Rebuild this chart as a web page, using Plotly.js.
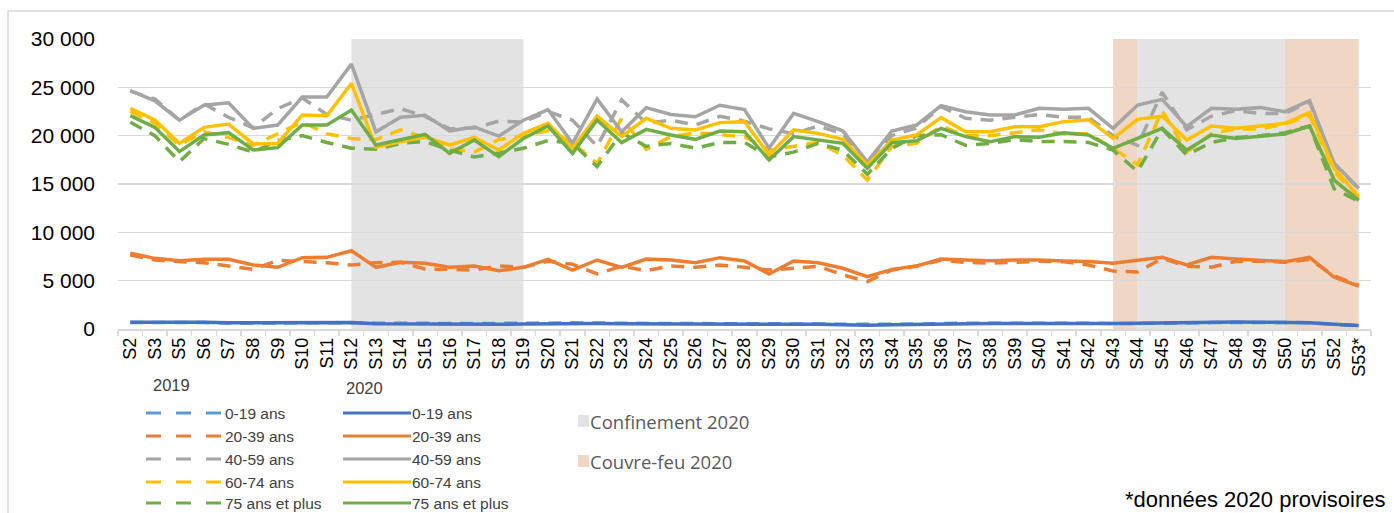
<!DOCTYPE html>
<html>
<head>
<meta charset="utf-8">
<script src="https://cdn.plot.ly/plotly-3.0.1.min.js"></script>
<style>
html,body{margin:0;padding:0;background:#fff;}
#chart{width:1394px;height:513px;}
</style>
</head>
<body>
<div id="chart"></div>
<script>
// ---- categories ----
const weeks = ['S2','S3','S5','S6','S7','S8','S9','S10','S11','S12','S13','S14','S15','S16','S17','S18','S19','S20','S21','S22','S23','S24','S25','S26','S27','S28','S29','S30','S31','S32','S33','S34','S35','S36','S37','S38','S39','S40','S41','S42','S43','S44','S45','S46','S47','S48','S49','S50','S51','S52','S53*'];

// ---- series names ----
const ageGroups = ['0-19 ans','20-39 ans','40-59 ans','60-74 ans','75 ans et plus'];

// ---- 2019 (dashed) ----
const a0_19_2019 = [680,700,690,660,620,600,620,660,680,640,600,640,600,560,560,540,560,600,640,600,600,580,560,560,580,570,540,520,500,480,420,480,520,580,600,600,610,600,600,600,560,560,620,620,660,700,680,680,640,480,350];
const a20_39_2019 = [7650,7140,6970,6860,6520,6170,7100,6970,6860,6620,6860,6900,6200,6170,6100,6520,6380,7000,6690,5690,6500,6030,6520,6380,6620,6380,6100,6280,6500,5600,4900,6100,6520,7100,6900,6800,6900,7000,6950,6620,6000,5900,7300,6500,6400,7000,7000,6900,7200,5500,4500];
const a40_59_2019 = [24600,23800,21600,23300,21900,20800,22800,23900,22200,21600,22200,22800,22000,20700,20800,21500,21400,22500,21600,18900,23700,21300,21600,21100,22000,21500,20700,20200,21000,20200,17000,20000,20800,23000,21800,21600,21900,22200,21900,21900,20000,19000,24500,20600,22000,22600,22300,22300,23500,17000,14500];
const a60_74_2019 = [22500,21300,19000,20400,19800,19000,20200,21400,20200,19700,19600,20600,19800,18700,18300,19600,20000,20500,19300,17100,21800,18600,19900,20300,20100,19900,18500,18900,19300,18000,15400,18900,19200,21000,20000,20000,20300,20600,20200,20200,18700,17000,22600,18300,20200,20700,20700,21200,22100,16300,13500];
const a75_2019 = [21380,20000,17300,19700,19100,18300,19500,20000,19300,18700,18600,19200,19400,18500,17800,18200,18700,19500,19200,16800,20300,18900,19200,18700,19300,19300,17800,18300,19200,18500,16000,18700,20000,20100,19000,19200,19600,19400,19400,19300,18500,16300,20700,18000,19300,19800,20000,20300,21000,14500,13200];

// ---- 2020 (solid) ----
const a0_19_2020 = [700,720,720,700,650,640,650,690,700,660,550,520,500,470,480,490,520,560,600,560,540,540,520,540,550,540,520,500,480,450,400,450,500,550,560,560,580,560,580,580,560,600,650,640,700,720,700,700,650,500,360];
const a20_39_2020 = [7830,7310,7070,7210,7210,6620,6380,7380,7410,8100,6380,6900,6790,6380,6520,6030,6380,7210,6100,7140,6380,7240,7140,6860,7380,7030,5690,7030,6860,6280,5410,6170,6520,7240,7140,7070,7140,7140,7030,6970,6790,7070,7410,6620,7410,7240,7070,6970,7410,5350,4450];
const a40_59_2020 = [24650,23600,21600,23150,23400,20750,21100,24000,24000,27400,20400,21900,22100,20500,20900,19950,21600,22700,19200,23800,20400,22900,22200,21950,23150,22700,18700,22300,21450,20500,17300,20480,21100,23100,22480,22140,22140,22830,22720,22830,20760,23170,23760,20930,22830,22720,22900,22480,23620,17140,14550];
const a60_74_2020 = [22830,21620,19200,20860,21200,19140,19200,22140,22070,25400,18800,19380,19850,19030,19830,18520,20240,21280,18690,22030,19900,21790,20760,20590,21350,21450,18000,20590,20240,19620,16970,19550,20070,21860,20410,20410,20930,20930,21450,21650,19720,21690,22030,19550,21000,20760,21000,21280,22380,16620,13700];
const a75_2020 = [22070,20860,18350,20070,20310,18520,18760,21100,21100,22650,19030,19550,20140,18170,19550,17830,19720,21000,18170,21620,19280,20650,20070,19620,20480,20410,17480,19900,19550,19210,16620,19280,19480,20760,19900,19380,19900,19830,20310,20070,18690,19720,20760,18520,20070,19720,19970,20170,21000,15410,13300];

// ---- periods ----
const confinementPeriods = [['S12','S19'],['S44','S50']];
const couvreFeuPeriods = [['S43','S44'],['S50','S53*']];
const periodLabels = ['Confinement 2020','Couvre-feu 2020'];
const yearLabels = ['2019','2020'];
const footnote = '*données 2020 provisoires';

// ---- styles ----
const colors2019 = ['#5b9bd5','#ed7d31','#a5a5a5','#ffc000','#70ad47'];
const colors2020 = ['#4472c4','#ed7d31','#a5a5a5','#ffc000','#70ad47'];
const confColor = '#e3e3e3', cfColor = '#f0d6c5';
const REG = '"Liberation Sans",Arial,sans-serif';
const DASH = '13px,9px';

const data2019 = [a0_19_2019,a20_39_2019,a40_59_2019,a60_74_2019,a75_2019];
const data2020 = [a0_19_2020,a20_39_2020,a40_59_2020,a60_74_2020,a75_2020];

const traces = [];
data2019.forEach((v,i)=>traces.push({x:weeks,y:v,type:'scatter',mode:'lines',name:ageGroups[i]+' 2019',
  line:{color:colors2019[i],width:3.5,dash:DASH},showlegend:false,hoverinfo:'skip'}));
data2020.forEach((v,i)=>traces.push({x:weeks,y:v,type:'scatter',mode:'lines',name:ageGroups[i]+' 2020',
  line:{color:colors2020[i],width:3.5},showlegend:false,hoverinfo:'skip'}));

// layout geometry (pixels)
const Wd=1394, Ht=513, L=118, R=1371, T=39, B=329;
const PW=R-L, PH=B-T;
const px = x => (x-L)/PW;
const py = y => (B-y)/PH;

const shapes = [];
confinementPeriods.forEach(p=>shapes.push({type:'rect',xref:'x',yref:'paper',x0:p[0],x1:p[1],y0:0,y1:1,fillcolor:confColor,line:{width:0},layer:'below'}));
couvreFeuPeriods.forEach(p=>shapes.push({type:'rect',xref:'x',yref:'paper',x0:p[0],x1:p[1],y0:0,y1:1,fillcolor:cfColor,line:{width:0},layer:'below'}));
// chart frame
shapes.push({type:'line',xref:'paper',yref:'paper',x0:px(8),x1:px(8),y0:py(11),y1:py(520),line:{color:'#d9d9d9',width:1.5}});
shapes.push({type:'line',xref:'paper',yref:'paper',x0:px(8),x1:px(1400),y0:py(11),y1:py(11),line:{color:'#d9d9d9',width:1.5}});

const annotations = [];
// legend rows
const rowY = [413,436,459,482,503];
const legFont = {family:REG,size:15.5,color:'#404040'};
ageGroups.forEach((g,i)=>{
  const y = rowY[i];
  shapes.push({type:'line',xref:'paper',yref:'paper',x0:px(146),x1:px(222),y0:py(y),y1:py(y),line:{color:colors2019[i],width:3,dash:'15px,15px'}});
  shapes.push({type:'line',xref:'paper',yref:'paper',x0:px(343),x1:px(411),y0:py(y),y1:py(y),line:{color:colors2020[i],width:3}});
  annotations.push({xref:'paper',yref:'paper',x:px(223),y:py(y),xanchor:'left',yanchor:'middle',text:g,showarrow:false,font:legFont});
  annotations.push({xref:'paper',yref:'paper',x:px(410),y:py(y),xanchor:'left',yanchor:'middle',text:g,showarrow:false,font:legFont});
});
annotations.push({xref:'paper',yref:'paper',x:px(171),y:py(385),xanchor:'center',yanchor:'middle',text:yearLabels[0],showarrow:false,font:{family:REG,size:16.5,color:'#404040'}});
annotations.push({xref:'paper',yref:'paper',x:px(364),y:py(388),xanchor:'center',yanchor:'middle',text:yearLabels[1],showarrow:false,font:{family:REG,size:16.5,color:'#404040'}});
// period legend
[[confColor,421],[cfColor,461]].forEach((c,i)=>{
  shapes.push({type:'rect',xref:'paper',yref:'paper',x0:px(578),x1:px(589),y0:py(c[1]-6),y1:py(c[1]+6),fillcolor:c[0],line:{width:0}});
  annotations.push({xref:'paper',yref:'paper',x:px(588),y:py(c[1]),xanchor:'left',yanchor:'middle',text:periodLabels[i],showarrow:false,font:{family:'"Open Sans",sans-serif',size:18.5,color:'#595959'}});
});
annotations.push({xref:'paper',yref:'paper',x:px(1388),y:py(499),xanchor:'right',yanchor:'middle',text:footnote,showarrow:false,font:{family:REG,size:22,color:'#000'}});

const layout = {
  width:Wd,height:Ht,
  margin:{l:L,r:Wd-R,t:T,b:Ht-B,pad:0},
  paper_bgcolor:'#fff',plot_bgcolor:'rgba(0,0,0,0)',
  separators:', ',
  showlegend:false,
  xaxis:{type:'category',categoryorder:'array',categoryarray:weeks,tickmode:'linear',tick0:0,dtick:1,tickson:'boundaries',ticks:'outside',ticklen:5,tickcolor:'#d9d9d9',tickwidth:1.5,
    showline:true,linecolor:'#d9d9d9',linewidth:1.5,showgrid:false,tickangle:-90,
    tickfont:{family:REG,size:18,color:'#000'},range:[-0.5,weeks.length-0.5],fixedrange:true},
  yaxis:{range:[0,30000],dtick:5000,tickformat:',d',showgrid:true,gridcolor:'#d9d9d9',gridwidth:1.5,zeroline:false,showline:false,ticks:'',
    ticklabelstandoff:22,tickfont:{family:REG,size:21,color:'#000'},fixedrange:true},
  shapes:shapes,annotations:annotations,hovermode:false
};
Plotly.newPlot('chart',traces,layout,{displayModeBar:false,staticPlot:true});
</script>
</body>
</html>
